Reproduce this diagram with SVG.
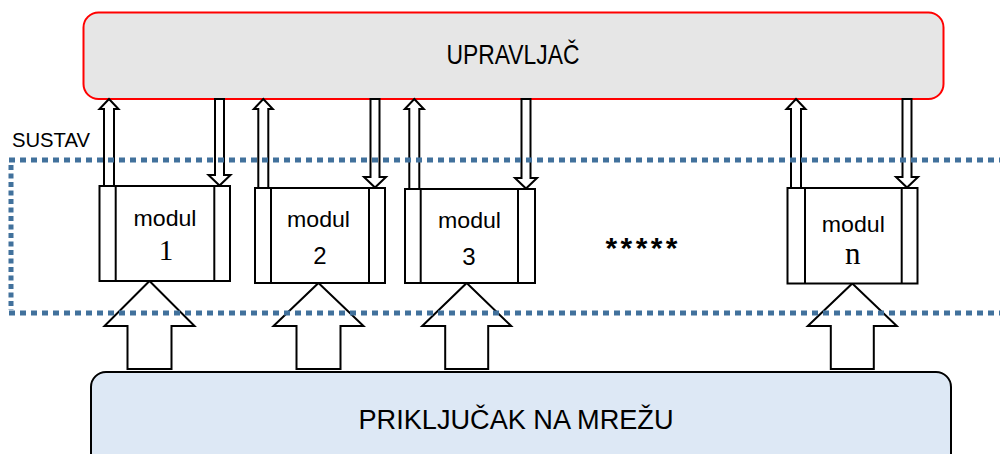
<svg xmlns="http://www.w3.org/2000/svg" width="1000" height="454" viewBox="0 0 1000 454">
<style>
.ln{fill:#fff;stroke:#000;stroke-width:2;stroke-linejoin:miter}
.mod{fill:#fff;stroke:#000;stroke-width:2}
.dot{fill:none;stroke:#41719c;stroke-width:5}
.sans{font-family:"Liberation Sans",Arial,sans-serif;fill:#000}
.serif{font-family:"Liberation Serif","Times New Roman",serif;fill:#000}
</style>
<rect width="1000" height="454" fill="#fff"/>
<g id="upravljac">
<rect x="83.5" y="12.5" width="860" height="86.5" rx="15" fill="#e6e6e6" stroke="#ff0000" stroke-width="2"/>
<text class="sans" x="513" y="64" font-size="28.5" text-anchor="middle" textLength="133" lengthAdjust="spacingAndGlyphs">UPRAVLJAČ</text>
</g>
<g id="prikljucak">
<rect x="91" y="372" width="860" height="100" rx="15" fill="#dde8f5" stroke="#000" stroke-width="2"/>
<text class="sans" x="516" y="429" font-size="27" text-anchor="middle" textLength="315" lengthAdjust="spacingAndGlyphs">PRIKLJUČAK NA MREŽU</text>
</g>
<g id="connectors">
<path class="ln" d="M109,99 L118.5,109 L114,109 L114,186 L104,186 L104,109 L99.5,109 Z"/>
<path class="ln" d="M215,99 L224,99 L224,175 L230.5,175 L219.5,185.5 L208.5,175 L215,175 Z"/>
<path class="ln" d="M149.5,281 L194.5,326 L171.5,326 L171.5,369 L127.5,369 L127.5,326 L104.5,326 Z"/>
<path class="ln" d="M263.3,99 L272.8,109 L268.3,109 L268.3,188 L258.3,188 L258.3,109 L253.8,109 Z"/>
<path class="ln" d="M370.5,99 L379.5,99 L379.5,177 L386,177 L375,187.5 L364,177 L370.5,177 Z"/>
<path class="ln" d="M318.5,283 L363.5,326 L340.5,326 L340.5,369 L296.5,369 L296.5,326 L273.5,326 Z"/>
<path class="ln" d="M414.3,99 L423.8,109 L419.3,109 L419.3,189 L409.3,189 L409.3,109 L404.8,109 Z"/>
<path class="ln" d="M521.5,99 L530.5,99 L530.5,178 L537,178 L526,188.5 L515,178 L521.5,178 Z"/>
<path class="ln" d="M466.7,283 L511.2,326 L488.2,326 L488.2,369 L445.2,369 L445.2,326 L422.2,326 Z"/>
<path class="ln" d="M796,99 L805.5,109 L801,109 L801,188 L791,188 L791,109 L786.5,109 Z"/>
<path class="ln" d="M902.5,99 L911.5,99 L911.5,177 L918,177 L907,187.5 L896,177 L902.5,177 Z"/>
<path class="ln" d="M852.3,283.5 L896.8,326 L873.8,326 L873.8,369 L830.8,369 L830.8,326 L807.8,326 Z"/>
</g>
<g id="modul1">
<rect class="mod" x="99.5" y="186" width="130.5" height="95"/>
<line class="mod" x1="115.7" y1="186" x2="115.7" y2="281"/>
<line class="mod" x1="214.3" y1="186" x2="214.3" y2="281"/>
<text class="sans" x="165" y="226" font-size="22" text-anchor="middle" textLength="63" lengthAdjust="spacingAndGlyphs">modul</text>
<text class="serif" x="166" y="260" font-size="29" text-anchor="middle">1</text>
</g>
<g id="modul2">
<rect class="mod" x="255" y="188" width="130" height="95"/>
<line class="mod" x1="271" y1="188" x2="271" y2="283"/>
<line class="mod" x1="369" y1="188" x2="369" y2="283"/>
<text class="sans" x="318.5" y="227" font-size="22" text-anchor="middle" textLength="63" lengthAdjust="spacingAndGlyphs">modul</text>
<text class="sans" x="320" y="263.5" font-size="24" text-anchor="middle">2</text>
</g>
<g id="modul3">
<rect class="mod" x="405" y="189" width="130" height="94"/>
<line class="mod" x1="420.7" y1="189" x2="420.7" y2="283"/>
<line class="mod" x1="518" y1="189" x2="518" y2="283"/>
<text class="sans" x="469.5" y="227.5" font-size="22" text-anchor="middle" textLength="63" lengthAdjust="spacingAndGlyphs">modul</text>
<text class="sans" x="469" y="265" font-size="24" text-anchor="middle">3</text>
</g>
<g id="moduln">
<rect class="mod" x="787.5" y="188" width="130" height="95.5"/>
<line class="mod" x1="805" y1="188" x2="805" y2="283.5"/>
<line class="mod" x1="901.7" y1="188" x2="901.7" y2="283.5"/>
<text class="sans" x="853.3" y="231.5" font-size="22" text-anchor="middle" textLength="63" lengthAdjust="spacingAndGlyphs">modul</text>
<text class="serif" x="852.7" y="263.5" font-size="31" text-anchor="middle">n</text>
</g>
<g id="dots">
<text class="sans" x="641.5" y="258" font-size="30" font-weight="bold" text-anchor="middle" textLength="72" lengthAdjust="spacing">*****</text>
</g>
<g id="sustav">
<text class="sans" x="12" y="146.5" font-size="20" textLength="78" lengthAdjust="spacingAndGlyphs">SUSTAV</text>
<line class="dot" x1="9" y1="160" x2="1005" y2="160" stroke-dasharray="6 5"/>
<line class="dot" x1="9" y1="313" x2="1005" y2="313" stroke-dasharray="6 5"/>
<line class="dot" x1="11" y1="165" x2="11" y2="310" stroke-dasharray="5 3.5"/>
</g>
</svg>
